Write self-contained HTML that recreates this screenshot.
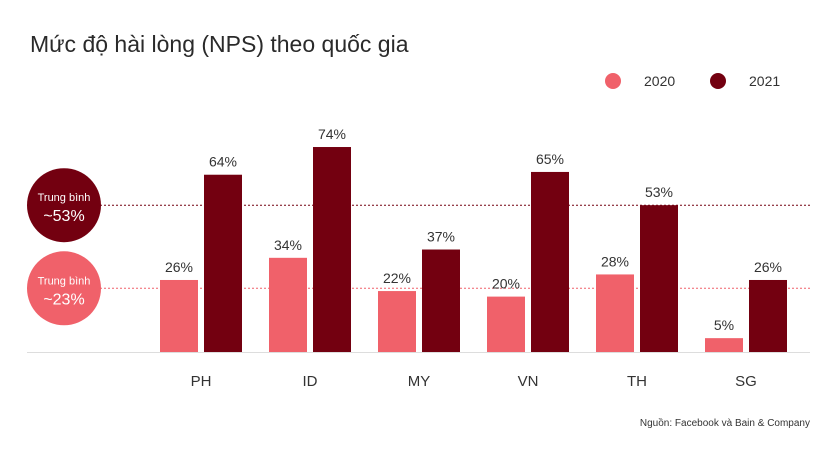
<!DOCTYPE html>
<html><head><meta charset="utf-8"><style>
body{margin:0;background:#fff;}
svg text{font-family:"Liberation Sans",sans-serif;}
</style></head><body>
<svg width="831" height="446" viewBox="0 0 831 446" xmlns="http://www.w3.org/2000/svg">
<text x="30" y="52" font-size="23" fill="#2a2a2a">Mức độ hài lòng (NPS) theo quốc gia</text>
<g>
<circle cx="613" cy="81" r="8" fill="#f0616a"/>
<text x="644" y="86" font-size="14" fill="#333">2020</text>
<circle cx="718" cy="81" r="8" fill="#730010"/>
<text x="749" y="86" font-size="14" fill="#333">2021</text>
</g>
<g id="plot"></g>
<line x1="27" y1="352.5" x2="810" y2="352.5" stroke="#ddd" stroke-width="1"/>
<text x="810" y="426" font-size="10" fill="#333" text-anchor="end">Nguồn: Facebook và Bain &amp; Company</text>
</svg>
<script>
const categories=["PH","ID","MY","VN","TH","SG"];
const values2020=[26,34,22,20,28,5];
const values2021=[64,74,37,65,53,26];
const avg2020=23;
const avg2021=53;
const NS="http://www.w3.org/2000/svg";
const g=document.getElementById('plot');
const base=352, k=2.77;
function y(v){return base-v*k;}
function cx(i){return 201+i*109;}
function mk(tag,attrs){const e=document.createElementNS(NS,tag);for(const a in attrs)e.setAttribute(a,attrs[a]);g.appendChild(e);return e;}
// avg lines
[[avg2021,'#730010','avg-2021'],[avg2020,'#f0616a','avg-2020']].forEach(([v,c,n])=>{
 const l=mk('line',{x1:100,x2:810,y1:y(v),y2:y(v),stroke:c,'stroke-dasharray':'2 2','stroke-width':1});
 
 
 const ci=mk('circle',{cx:64,cy:y(v),r:37,fill:c});
 
 
 const t1=mk('text',{x:64,y:y(v)-4,'font-size':11,fill:'#fff','text-anchor':'middle'});t1.textContent='Trung bình';
 
 
 const t2=mk('text',{x:64,y:y(v)+16,'font-size':16,fill:'#fff','text-anchor':'middle'});t2.textContent='~'+v+'%';
 
 
});
categories.forEach((c,i)=>{
 [[values2020[i],'#f0616a',-41,'2020'],[values2021[i],'#730010',3,'2021']].forEach(([v,col,dx,s])=>{
  const r=mk('rect',{x:cx(i)+dx,y:y(v),width:38,height:v*k,fill:col});
  
  
  const t=mk('text',{x:cx(i)+dx+19,y:y(v)-8,'font-size':14,fill:'#333','text-anchor':'middle'});t.textContent=v+'%';
  
  
 });
 const t=mk('text',{x:cx(i),y:386,'font-size':15,fill:'#333','text-anchor':'middle'});t.textContent=c;
 
 
});
</script>
</body></html>
